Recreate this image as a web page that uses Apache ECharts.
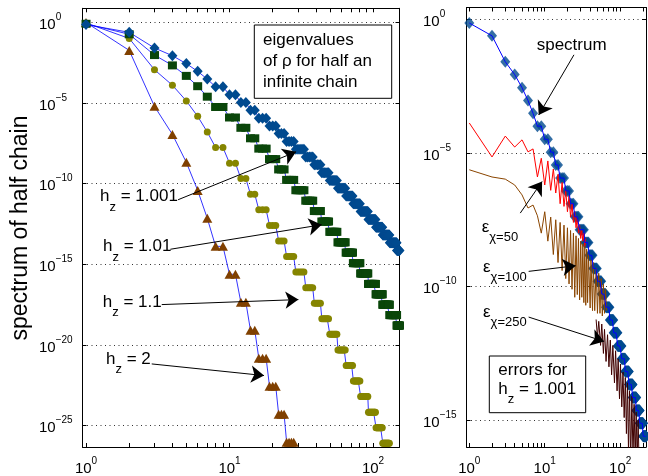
<!DOCTYPE html>
<html><head><meta charset="utf-8">
<script src="https://cdn.jsdelivr.net/npm/echarts@6/dist/echarts.min.js"></script>
<style>html,body{margin:0;padding:0;background:#fff}#c{width:648px;height:476px}</style>
</head><body><div id="c"></div>
<script>
// ---------------- data (log10 of values) ----------------
// multiplicity of each eigenvalue level (number of equal eigenvalues in a cluster)
const degeneracy = [1,1,1,1,1,1,1,2,2,2,2,3,3,3,4,5,5,5,6,7,8,8,9,11,12,12,14,16,17,18,20,23];
// eigenvalue levels, log10
const hz1001Log = [-0.14,-0.62,-1.59,-2.07,-2.56,-3.04,-3.52,-4.0,-4.49,-4.97,-5.45,-5.94,-6.42,-6.9,-7.39,-7.87,-8.35,-8.83,-9.32,-9.8,-10.28,-10.77,-11.25,-11.73,-12.22,-12.7,-13.18,-13.66,-14.15,-14.63,-15.11,-15.6];
const hz101Log = [-0.09,-0.74,-2.03,-2.67,-3.32,-3.96,-4.61,-5.25,-5.9,-6.54,-7.19,-7.83,-8.48,-9.12,-9.77,-10.41,-11.06,-11.7,-12.35,-12.99,-13.64,-14.28,-14.93,-15.57,-16.22,-16.86,-17.51,-18.15,-18.8];
const hz11Log = [-0.04,-1.0,-2.94,-3.9,-4.87,-5.83,-6.8,-7.76,-8.73,-9.69,-10.66,-11.62,-12.59,-13.55,-14.52,-15.48,-16.45,-17.41,-18.38,-19.34,-20.31,-21.27,-22.24,-23.2,-24.17,-25.13,-26.1];
const hz2Log = [-0.01,-1.74,-5.21,-6.95,-8.68,-10.42,-12.15,-13.89,-15.62,-17.36,-19.09,-20.83,-22.56,-24.3,-26.03];
// errors (right panel), x = eigenvalue index, log10 error
const chi50X = [1,2,3,4,5,6,7,8,9,10,11,12,13,14,15,16,17,18,19,20,21,22,23,24,25,26,27,28,29,30,31,32,33,34,35];
const chi50Log = [-3.88,-5.15,-4.37,-4.78,-4.51,-4.96,-4.85,-5.9,-5.2,-6.2,-5.3,-6.4,-5.6,-6.5,-5.8,-6.9,-6.1,-7.0,-6.4,-7.2,-6.6,-7.4,-6.9,-7.6,-7.2,-7.8,-7.4,-8.0,-7.7,-8.2,-7.9,-8.3,-8.0,-8.5,-8.2];
const chi100X = [1,2,3,4,5,6,7,8,9,10,11,12,13,14,15,16,17,18,19,20,21,22,23,24,25,26,27,28,29,30,31,32,33,34,35,36,37,38,40,41,43,44,46,48,50,52,54,56,58,60,62,64,66];
const chi100Log = [-5.63,-5.9,-5.98,-6.2,-6.57,-7.06,-6.95,-7.35,-8.0,-7.2,-8.3,-7.4,-8.8,-7.5,-9.1,-7.6,-9.4,-7.7,-9.7,-7.8,-9.9,-7.9,-10.1,-8.0,-10.4,-8.1,-10.3,-8.2,-10.5,-8.3,-10.4,-8.4,-10.6,-8.5,-10.7,-8.6,-10.6,-8.8,-10.8,-9.0,-10.9,-9.1,-10.9,-9.3,-11.0,-9.5,-11.0,-9.7,-11.1,-9.9,-11.0,-10.1,-10.9];
const chi250X = [48,50,52,55,57,60,62,65,68,71,74,77,80,84,87,91,94,98,101,105,109,113,117,121,125,129,133,138,143,148,153,158,163,168,173,178];
const chi250Log = [-11.23,-11.9,-11.3,-12.2,-11.4,-12.5,-11.6,-12.8,-11.8,-13.0,-12.0,-13.3,-12.2,-13.6,-12.4,-13.9,-12.7,-14.2,-12.9,-14.5,-13.2,-14.9,-13.4,-15.5,-13.6,-16.2,-13.9,-16.5,-14.1,-16.5,-14.4,-16.5,-14.7,-16.5,-15.0,-16.5];
// tick values
const xLabelTicks = [1, 10, 100];
const xTicksLeft = [1,2,3,4,5,6,7,8,9,10,20,30,40,50,60,70,80,90,100];
const xTicksRight = [1,2,3,4,5,6,7,8,9,10,20,30,40,50,60,70,80,90,100,200];
const yTicksLeft = [1e-25,1e-20,1e-15,1e-10,1e-5,1];
const yTicksRight = [1e-15,1e-10,1e-5,1];
// annotation arrows [startX, startYlog, endX, endYlog]
const leftArrows = [[4.38,-11.0,29.1,-8.03],[3.87,-14.07,43.9,-12.55],[3.37,-17.5,30.2,-17.19],[2.87,-21.18,17.4,-21.9]];
const rightArrows = [[24.4,-1.33,8.32,-3.58],[4.74,-7.25,9.23,-6.07],[6.12,-9.43,25.7,-9.22],[6.12,-11.14,61.2,-12.05]];

// ---------------- helpers ----------------
const FONT = '"Liberation Sans", Arial, Helvetica, sans-serif';
function expand(levels) {
  const out = []; let rank = 1;
  levels.forEach((v, i) => { for (let k = 0; k < degeneracy[i]; k++) out.push([rank++, Math.pow(10, v)]); });
  return out;
}
function pairs(xs, ls) { return xs.map((x, i) => [x, Math.pow(10, ls[i])]); }
function arrows(list) {
  return list.map(a => [{coord: [a[0], Math.pow(10, a[1])]}, {coord: [a[2], Math.pow(10, a[3])]}]);
}
function supFmt(v) {
  const e = Math.round(Math.log10(v));
  return '{b|10}{s|' + (e < 0 ? '\u2212' + (-e) : e) + '}{h|\u200b}';
}
const supRich = {
  b: {fontSize: 15, lineHeight: 15, verticalAlign: 'bottom', fontFamily: FONT, color: '#000'},
  s: {fontSize: 10, lineHeight: 10, verticalAlign: 'top', fontFamily: FONT, color: '#000'},
  h: {fontSize: 10, lineHeight: 20, fontFamily: FONT}
};
function xAx(grid, min, max, pos, ticks, showLabel) {
  return {type: 'log', logBase: 10, gridIndex: grid, min: min, max: max, position: pos,
    axisLine: {show: true, onZero: false, lineStyle: {color: '#000', width: 1}},
    axisTick: {show: true, inside: true, length: 4, customValues: ticks, lineStyle: {color: '#000', width: 1}},
    axisLabel: {show: showLabel, customValues: xLabelTicks, margin: 9, formatter: supFmt, rich: supRich},
    splitLine: {show: false}, minorTick: {show: false}};
}
function yAx(grid, min, max, pos, ticks, showLabel) {
  return {type: 'log', logBase: 10, gridIndex: grid, min: min, max: max, position: pos,
    axisLine: {show: true, onZero: false, lineStyle: {color: '#000', width: 1}},
    axisTick: {show: true, inside: true, length: 4, customValues: ticks, lineStyle: {color: '#000', width: 1}},
    axisLabel: {show: showLabel, customValues: ticks, margin: 43.5, align: 'left', formatter: supFmt, rich: supRich},
    splitLine: {show: showLabel, lineStyle: {color: '#333', type: [1, 3.5], width: 1}}, minorTick: {show: false}};
}
const ctx = document.createElement('canvas').getContext('2d');
function tw(str, size) { ctx.font = size + 'px ' + FONT; return ctx.measureText(str).width; }
function txt(x, baseline, str, size) {
  return {type: 'text', x: x, y: baseline - 0.347 * size, silent: true,
    style: {text: str, font: size + 'px ' + FONT, fill: '#000', align: 'left', verticalAlign: 'middle',
      textAlign: 'left', textVerticalAlign: 'middle'}};
}
function subText(x, baseline, main, sub, rest) {
  const els = [txt(x, baseline, main, 17)];
  const x2 = x + tw(main, 17);
  els.push(txt(x2, baseline + 9, sub, 13));
  if (rest) els.push(txt(x2 + tw(sub, 13), baseline, rest, 17));
  return els;
}
function box(x, y, w, h) {
  return {type: 'rect', shape: {x: x, y: y, width: w, height: h}, silent: true, z: 50,
    style: {fill: '#fff', stroke: '#000', lineWidth: 1}};
}

const BLUE = '#0000ff';
const arrowML = (list) => ({silent: true, animation: false, symbol: ['none', 'arrow'], symbolSize: 13,
  lineStyle: {color: '#000', width: 1, type: 'solid'}, itemStyle: {color: '#000'},
  label: {show: false}, emphasis: {disabled: true}, data: arrows(list)});

let graphics = [];
graphics.push({type: 'text', x: 21, y: 228, rotation: Math.PI / 2, silent: true,
  style: {text: 'spectrum of half chain', font: '23px ' + FONT, fill: '#000', align: 'center', verticalAlign: 'middle', textAlign: 'center', textVerticalAlign: 'middle'}});
graphics.push(box(254.3, 25, 137.4, 73.3));
graphics.push(Object.assign(txt(263, 46.7, 'eigenvalues', 17), {z: 51}));
graphics.push(Object.assign(txt(263, 67.5, 'of \u03c1 for half an', 17), {z: 51}));
graphics.push(Object.assign(txt(263, 88.3, 'infinite chain', 17), {z: 51}));
graphics = graphics.concat(subText(100, 202.7, 'h', 'z', ' = 1.001'));
graphics = graphics.concat(subText(103, 252.7, 'h', 'z', ' = 1.01'));
graphics = graphics.concat(subText(102.7, 308.3, 'h', 'z', ' = 1.1'));
graphics = graphics.concat(subText(106, 365, 'h', 'z', ' = 2'));
graphics.push(txt(536.7, 51.7, 'spectrum', 17));
graphics = graphics.concat(subText(481.7, 233, '\u03b5', '\u03c7=50'));
graphics = graphics.concat(subText(483, 273, '\u03b5', '\u03c7=100'));
graphics = graphics.concat(subText(483, 318, '\u03b5', '\u03c7=250'));
graphics.push(box(489.3, 356, 96.4, 56.7));
graphics.push(Object.assign(txt(498.3, 376.7, 'errors for', 17), {z: 51}));
subText(498.3, 395, 'h', 'z', ' = 1.001').forEach(e => { e.z = 51; graphics.push(e); });

const chart = echarts.init(document.getElementById('c'), null, {renderer: 'canvas'});
chart.setOption({
  animation: false,
  backgroundColor: '#fff',
  grid: [
    {left: 82.5, top: 8.3, width: 317, height: 439.2},
    {left: 466.5, top: 7.5, width: 179.5, height: 440}
  ],
  xAxis: [
    xAx(0, 0.945, 153, 'bottom', xTicksLeft, true),
    xAx(0, 0.945, 153, 'top', xTicksLeft, false),
    xAx(1, 0.918, 220, 'bottom', xTicksRight, true),
    xAx(1, 0.918, 220, 'top', xTicksRight, false)
  ],
  yAxis: [
    yAx(0, Math.pow(10, -26.33), Math.pow(10, 0.87), 'left', yTicksLeft, true),
    yAx(0, Math.pow(10, -26.33), Math.pow(10, 0.87), 'right', yTicksLeft, false),
    yAx(1, 1e-16, Math.pow(10, 0.44), 'left', yTicksRight, true),
    yAx(1, 1e-16, Math.pow(10, 0.44), 'right', yTicksRight, false)
  ],
  graphic: {elements: graphics},
  series: [
    {type: 'line', name: 'hz=2', xAxisIndex: 0, yAxisIndex: 0, data: expand(hz2Log), symbol: 'triangle', symbolSize: [10, 9],
      itemStyle: {color: '#804000'}, lineStyle: {color: BLUE, width: 0.8}, showSymbol: true, clip: true, z: 3, markLine: arrowML(leftArrows)},
    {type: 'line', name: 'hz=1.1', xAxisIndex: 0, yAxisIndex: 0, data: expand(hz11Log), symbol: 'circle', symbolSize: 7,
      itemStyle: {color: '#858500'}, lineStyle: {color: BLUE, width: 0.8}, showSymbol: true, clip: true, z: 3},
    {type: 'line', name: 'hz=1.01', xAxisIndex: 0, yAxisIndex: 0, data: expand(hz101Log), symbol: 'rect', symbolSize: [9, 8],
      itemStyle: {color: '#0a460a'}, lineStyle: {color: BLUE, width: 0.8}, showSymbol: true, clip: true, z: 3},
    {type: 'line', name: 'hz=1.001', xAxisIndex: 0, yAxisIndex: 0, data: expand(hz1001Log), symbol: 'diamond', symbolSize: [10, 11],
      itemStyle: {color: '#004a8f'}, lineStyle: {color: BLUE, width: 0.8}, showSymbol: true, clip: true, z: 3},
    {type: 'scatter', name: 'spectrum', xAxisIndex: 2, yAxisIndex: 2, data: expand(hz1001Log), symbol: 'diamond', symbolSize: [10, 12],
      itemStyle: {color: '#004a8f'}, clip: true, z: 3},
    {type: 'line', name: 'chi50', xAxisIndex: 2, yAxisIndex: 2, data: pairs(chi50X, chi50Log), showSymbol: false,
      lineStyle: {color: '#ff0000', width: 1}, clip: true, z: 4},
    {type: 'line', name: 'chi100', xAxisIndex: 2, yAxisIndex: 2, data: pairs(chi100X, chi100Log), showSymbol: false,
      lineStyle: {color: '#8a4500', width: 1}, clip: true, z: 4},
    {type: 'line', name: 'chi250', xAxisIndex: 2, yAxisIndex: 2, data: pairs(chi250X, chi250Log), showSymbol: false,
      lineStyle: {color: '#400000', width: 1}, clip: true, z: 4},
    {type: 'line', name: 'spectrumLine', xAxisIndex: 2, yAxisIndex: 2, data: expand(hz1001Log), showSymbol: false,
      lineStyle: {color: BLUE, width: 1}, clip: true, z: 5, markLine: arrowML(rightArrows)}
  ]
});
</script></body></html>
